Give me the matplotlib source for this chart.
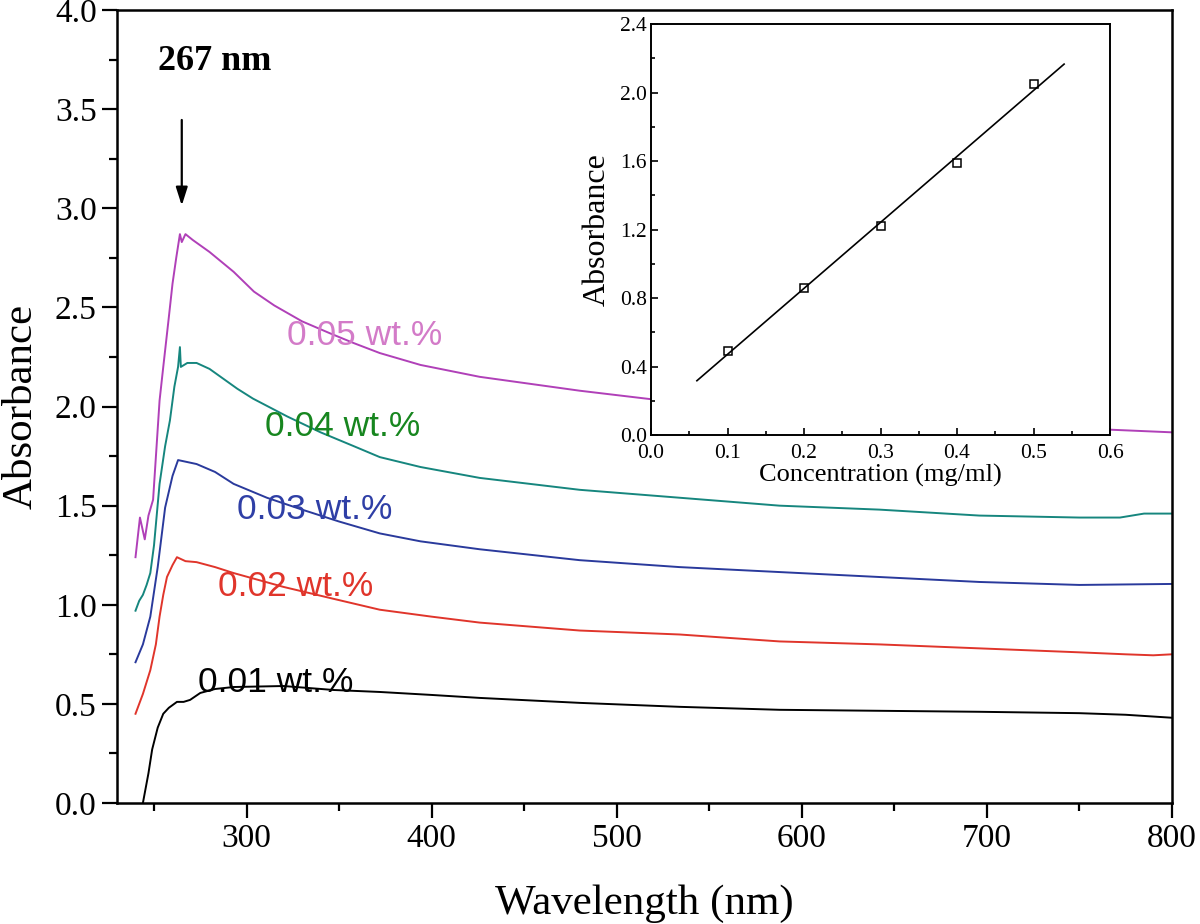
import matplotlib.pyplot as plt
import numpy as np
from matplotlib.ticker import MultipleLocator

# UV-vis spectra (wavelength in nm, absorbance)
wl_005 = [240, 242.4, 245, 247, 249.5, 253, 255, 258, 260, 262, 264, 265, 267, 271, 280, 293,
          304, 315, 330, 345, 358, 372, 394, 426, 480, 534, 588, 642, 696, 750, 800]
ab_005 = [1.24, 1.44, 1.33, 1.45, 1.53, 2.03, 2.20, 2.45, 2.62, 2.75, 2.87, 2.83, 2.87, 2.84, 2.78, 2.68,
          2.58, 2.51, 2.43, 2.37, 2.32, 2.27, 2.21, 2.15, 2.08, 2.02, 1.97, 1.94, 1.90, 1.89, 1.87]

wl_004 = [240, 242, 244, 246, 248, 250, 253, 256, 258.6, 261, 263, 264, 264.5, 268, 273, 280, 286,
          295, 303.5, 322, 340, 358, 372, 394, 426, 480, 534, 588, 642, 696, 750, 772, 785, 800]
ab_004 = [0.97, 1.02, 1.05, 1.10, 1.16, 1.30, 1.61, 1.80, 1.93, 2.10, 2.20, 2.30, 2.20, 2.22, 2.22, 2.19, 2.15,
          2.09, 2.04, 1.95, 1.87, 1.80, 1.745, 1.695, 1.64, 1.58, 1.54, 1.50, 1.48, 1.45, 1.44, 1.44, 1.46, 1.46]

wl_003 = [240, 244, 248, 252, 256, 260, 263, 268, 273, 283, 293, 311, 330, 350, 372, 394, 426,
          480, 534, 588, 642, 696, 750, 800]
ab_003 = [0.71, 0.80, 0.94, 1.19, 1.49, 1.65, 1.73, 1.72, 1.71, 1.67, 1.61, 1.54, 1.48, 1.42, 1.36, 1.32, 1.28,
          1.225, 1.19, 1.165, 1.14, 1.115, 1.10, 1.105]

wl_002 = [240, 244, 248, 251, 253, 255, 257, 260, 262.4, 267, 273, 283, 293, 320, 347, 372, 400,
          426, 480, 534, 588, 642, 696, 750, 775, 790, 800]
ab_002 = [0.45, 0.55, 0.67, 0.80, 0.94, 1.05, 1.14, 1.20, 1.24, 1.22, 1.215, 1.19, 1.16, 1.09, 1.03, 0.975, 0.94,
          0.91, 0.87, 0.85, 0.815, 0.80, 0.78, 0.76, 0.75, 0.745, 0.75]

wl_001 = [244, 247, 249, 252, 255, 258, 262.4, 266, 269.5, 275, 283, 293, 320, 347, 372, 400, 426,
          480, 534, 588, 642, 696, 750, 775, 800]
ab_001 = [0.0, 0.15, 0.27, 0.38, 0.45, 0.48, 0.51, 0.51, 0.52, 0.555, 0.575, 0.585, 0.59, 0.57, 0.56, 0.545, 0.53,
          0.505, 0.485, 0.47, 0.465, 0.46, 0.453, 0.445, 0.43]

labels = ["0.05 wt.%", "0.04 wt.%", "0.03 wt.%", "0.02 wt.%", "0.01 wt.%"]
label_x = [322, 310, 295, 284.5, 274]
label_y = [2.36, 1.90, 1.48, 1.09, 0.61]
line_colors = ["#b040b8", "#16867e", "#2a3a9c", "#e0352b", "black"]
text_colors = ["#d37bc8", "#17861f", "#2f3fa6", "#e0352b", "black"]

# calibration inset
conc = [0.1, 0.2, 0.3, 0.4, 0.5]
absorb = [0.49, 0.86, 1.22, 1.59, 2.05]

serif = "Liberation Serif"
sans = "Liberation Sans"

fig = plt.figure(figsize=(12, 9.24), dpi=100)
ax = fig.add_axes([0.0975, 0.131, 0.879, 0.858])

series = [(wl_005, ab_005), (wl_004, ab_004), (wl_003, ab_003), (wl_002, ab_002), (wl_001, ab_001)]
for (x, y), c in zip(series, line_colors):
    ax.plot(x, y, color=c, lw=1.4)

for t, tx, ty, c in zip(labels, label_x, label_y, text_colors):
    ax.text(tx, ty, t, color=c, fontsize=25.5, family=sans, ha="left", va="center")

ax.text(283, 3.74, "267 nm", fontsize=26, family=serif, fontweight="bold", ha="center", va="center")
ax.annotate("", xy=(265, 3.0), xytext=(265, 3.46),
            arrowprops=dict(arrowstyle="-|>,head_width=0.35,head_length=1.1", color="black", lw=1.6))

ax.set_xlim(230, 800)
ax.set_ylim(0, 4.0)
ax.xaxis.set_major_locator(MultipleLocator(100))
ax.xaxis.set_minor_locator(MultipleLocator(50))
ax.yaxis.set_major_locator(MultipleLocator(0.5))
ax.yaxis.set_minor_locator(MultipleLocator(0.25))
ax.yaxis.set_major_formatter(plt.FormatStrFormatter("%.1f"))
ax.tick_params(which="major", direction="out", length=11, width=1.6, labelsize=24)
ax.tick_params(which="minor", direction="out", length=6, width=1.6)
for lab in ax.get_xticklabels() + ax.get_yticklabels():
    lab.set_family(serif)
for s in ax.spines.values():
    s.set_linewidth(1.8)
ax.set_xlabel("Wavelength (nm)", fontsize=31, family=serif, labelpad=22)
ax.set_ylabel("Absorbance", fontsize=31, family=serif, labelpad=10)

# inset
ins = fig.add_axes([0.5425, 0.529, 0.3825, 0.445])
ins.plot(conc, absorb, "s", mfc="white", mec="black", ms=6, mew=1.1)
k, b = np.polyfit(conc, absorb, 1)
fx = np.array([0.06, 0.54])
ins.plot(fx, k * fx + b, color="black", lw=1.2)
ins.set_xlim(0, 0.6)
ins.set_ylim(0, 2.4)
ins.xaxis.set_major_locator(MultipleLocator(0.1))
ins.xaxis.set_minor_locator(MultipleLocator(0.05))
ins.yaxis.set_major_locator(MultipleLocator(0.4))
ins.yaxis.set_minor_locator(MultipleLocator(0.2))
ins.xaxis.set_major_formatter(plt.FormatStrFormatter("%.1f"))
ins.yaxis.set_major_formatter(plt.FormatStrFormatter("%.1f"))
ins.tick_params(which="major", direction="in", length=5, width=1.2, labelsize=15.5, pad=3)
ins.tick_params(axis="x", which="major", pad=6)
ins.tick_params(which="minor", direction="in", length=3, width=1.2)
for lab in ins.get_xticklabels() + ins.get_yticklabels():
    lab.set_family(serif)
for s in ins.spines.values():
    s.set_linewidth(1.4)
ins.set_xlabel("Concentration (mg/ml)", fontsize=19, family=serif, labelpad=1)
ins.set_ylabel("Absorbance", fontsize=23, family=serif, labelpad=6)

fig.savefig("out.png", dpi=100)
